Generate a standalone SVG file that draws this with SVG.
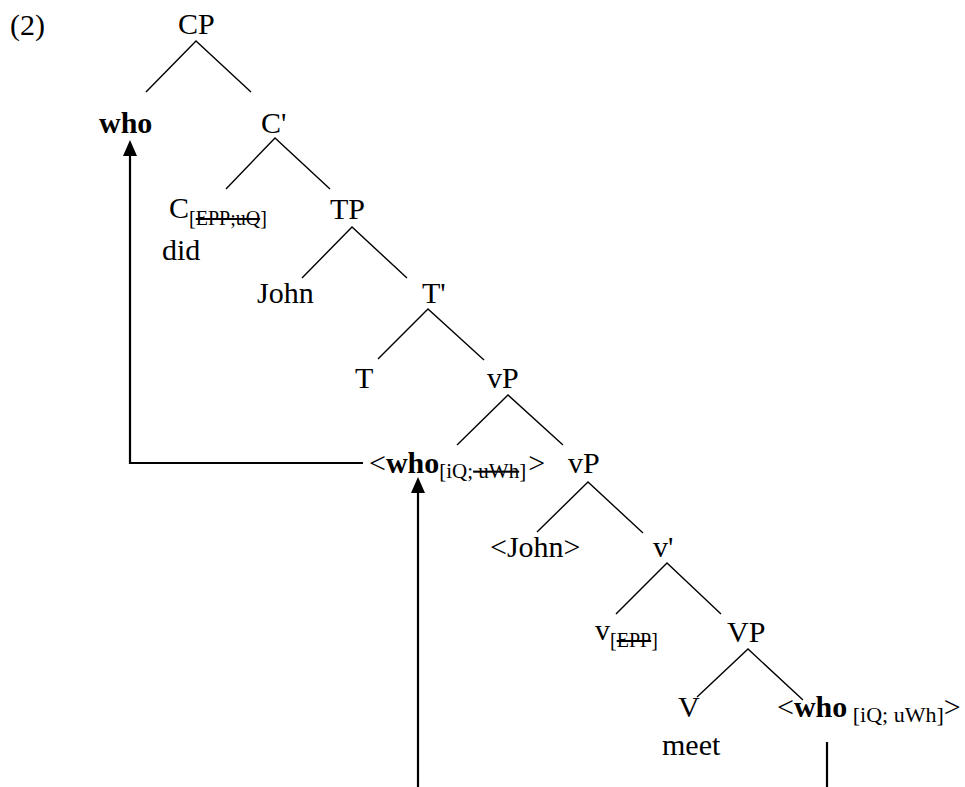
<svg xmlns="http://www.w3.org/2000/svg" width="965" height="787" viewBox="0 0 965 787">
  <style>
    text { font-family: "Liberation Serif", "Times New Roman", serif; font-size: 30px; fill: #000; }
    .b { font-weight: bold; }
    .sub { font-size: 20px; }
    .sub21 { font-size: 21px; }
    .sub22 { font-size: 22px; }
    .strike { text-decoration: line-through; }
    .branch { stroke: #000; stroke-width: 1.4; fill: none; }
    .move { stroke: #000; stroke-width: 2.2; fill: none; }
  </style>
  <defs>
    <marker id="head" viewBox="0 0 16 14" refX="0" refY="7" markerWidth="16" markerHeight="14" markerUnits="userSpaceOnUse" orient="auto">
      <path d="M0,0 L16,7 L0,14 Z" fill="#000"/>
    </marker>
  </defs>

  <rect width="965" height="787" fill="#fff"/>

  <text x="10" y="35">(2)</text>

  <!-- tree branches -->
  <g id="connectors">
    <path class="branch" d="M146,92 L196,41 L251,92"/>
    <path class="branch" d="M226,189 L275,138 L330,189"/>
    <path class="branch" d="M302,278 L352,227 L407,278"/>
    <path class="branch" d="M378,359 L428,309 L484,360"/>
    <path class="branch" d="M457,445 L508,395 L563,445"/>
    <path class="branch" d="M537,532 L588,482 L643,533"/>
    <path class="branch" d="M616,614 L667,563 L721,614"/>
    <path class="branch" d="M697,697 L748,649 L803,700"/>
    <!-- movement paths -->
    <path class="move" d="M363,463 H130 V156" marker-end="url(#head)"/>
    <path class="move" d="M418,787 V493" marker-end="url(#head)"/>
    <path class="move" d="M827,742 V787"/>
  </g>

  <g id="CP"><text x="178" y="34">CP</text></g>
  <g id="who-spec"><text class="b" x="99" y="133">who</text></g>
  <g id="Cbar"><text x="261" y="133">C'</text></g>
  <g id="C"><text x="169" y="218">C<tspan class="sub" dy="7">[<tspan class="strike">EPP;uQ</tspan>]</tspan></text>
    <text x="162" y="260">did</text></g>
  <g id="TP"><text x="330" y="219">TP</text></g>
  <g id="John"><text x="257" y="303">John</text></g>
  <g id="Tbar"><text x="422" y="303">T'</text></g>
  <g id="T"><text x="355" y="388">T</text></g>
  <g id="vP-top"><text x="487" y="388">vP</text></g>
  <g id="who-mid"><text x="369" y="473">&lt;<tspan class="b">who</tspan><tspan class="sub21" dy="5">[iQ;<tspan class="strike"> uWh</tspan>]</tspan><tspan dx="2" dy="-5">&gt;</tspan></text></g>
  <g id="vP-low"><text x="568" y="473">vP</text></g>
  <g id="John-copy"><text x="490" y="557">&lt;John&gt;</text></g>
  <g id="vbar"><text x="653" y="557">v'</text></g>
  <g id="v"><text x="595" y="640">v<tspan class="sub" dy="7">[<tspan class="strike">EPP</tspan>]</tspan></text></g>
  <g id="VP"><text x="727" y="642">VP</text></g>
  <g id="V"><text x="678" y="717">V</text>
    <text x="662" y="755">meet</text></g>
  <g id="who-base"><text x="777" y="717">&lt;<tspan class="b">who</tspan><tspan class="sub22" dy="5"> [iQ; uWh]</tspan><tspan dy="-5">&gt;</tspan></text></g>
</svg>
